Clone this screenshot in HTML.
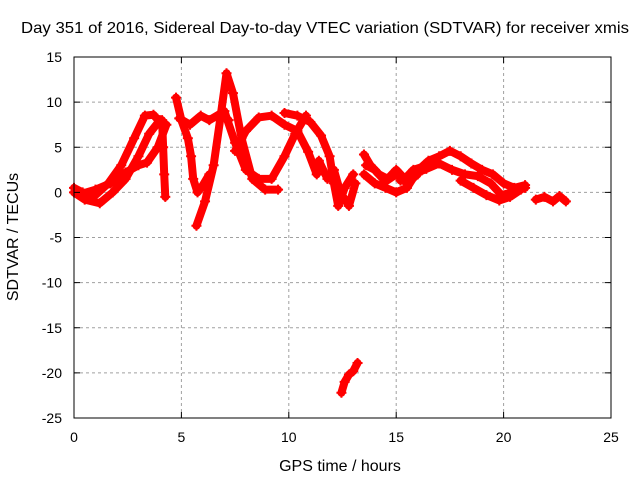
<!DOCTYPE html>
<html><head><meta charset="utf-8"><style>
html,body{margin:0;padding:0;background:#fff;}
svg text{font-family:"Liberation Sans",sans-serif;font-size:14px;fill:#000;}
svg text.big{font-size:16px;}
</style></head><body>
<svg id="chart" width="640" height="480" xmlns="http://www.w3.org/2000/svg">
<rect width="640" height="480" fill="#fff"/>
<g id="grid"></g>
<g id="series"></g>
<g id="axes"></g>
<text class="big" x="325" y="33" text-anchor="middle" textLength="608" lengthAdjust="spacingAndGlyphs">Day 351 of 2016, Sidereal Day-to-day VTEC variation (SDTVAR) for receiver xmis</text>
<text class="big" x="340" y="471" text-anchor="middle">GPS time / hours</text>
<text class="big" x="18" y="237" text-anchor="middle" transform="rotate(-90 18 237)">SDTVAR / TECUs</text>
</svg>
<script>
const xTicks=[0,5,10,15,20,25];
const yTicks=[15,10,5,0,-5,-10,-15,-20,-25];
const trackA_h=[0,0.4,1,1.6,2.2,2.8,3.3,3.7,4.1];
const trackA_v=[0.5,0,-0.3,1,3,6,8.5,8.6,7.5];
const trackB_h=[0,0.5,1.2,1.8,2.4,3,3.5,4];
const trackB_v=[0,-0.8,-1.2,0,1.5,4,6.5,8];
const trackC_h=[0.3,1,1.7,2.4,3,3.4,3.9,4.3];
const trackC_v=[-0.2,0.3,1,2.2,3,3.3,5,7.5];
const trackD_h=[4.1,4.15,4.2,4.25];
const trackD_v=[8,5,2,-0.5];
const trackE_h=[4.75,5.0,5.3,5.45,5.55,5.75,6.0,6.3];
const trackE_v=[10.5,8,6,4,1.5,0,0.8,2];
const trackF_h=[4.9,5.4,5.9,6.3,6.8,7.2];
const trackF_v=[8.2,7.5,8.5,8,8.7,8];
const trackG_h=[5.7,6.1,6.5,6.8,7.1,7.4,7.8,8.3,8.9,9.5];
const trackG_v=[-3.7,-1,3,8,13.2,11,6,1.5,0.3,0.3];
const trackH_h=[7,7.5,8,8.6,9.2,9.8,10.3,10.8];
const trackH_v=[9,5.5,2.5,1.5,1.5,4,6.5,8.5];
const trackI_h=[7.5,8,8.6,9.2,9.8,10.4,10.9,11.3];
const trackI_v=[4.6,6.8,8.3,8.5,7.5,6.8,4.5,2];
const trackJ_h=[9.8,10.4,11,11.5,11.9,12.1,12.3,12.6,13];
const trackJ_v=[8.8,8.5,7.8,6.3,4,1,-1.5,0.5,2];
const trackK_h=[11.4,11.8,12.1,12.4,12.8,13.1];
const trackK_v=[3.5,1.5,2.5,0,-1.5,1];
const trackL_h=[13.5,13.8,14.2,14.6,15,15.4,15.8,16.2];
const trackL_v=[4.2,3,2,1.5,2.5,1.5,2.5,2.8];
const trackM_h=[13.5,14,14.5,15,15.5,16,16.5,17,17.5,18,18.5,19,19.5,20,20.5,21];
const trackM_v=[2,1,0.5,0,0.5,2.4,3.5,4,4.6,4,3.2,2.5,2,1,0.5,0.8];
const trackN_h=[15.2,15.8,16.4,17,17.6,18.2,18.8,19.4,19.9,20.4,21];
const trackN_v=[1.3,2,2.6,3.2,2.5,2,1.8,1,-0.3,0,0.5];
const trackO_h=[18,18.6,19.2,19.8,20.3,20.8];
const trackO_v=[1.3,0.5,-0.3,-0.9,-0.5,0.3];
const trackP_h=[21.5,21.9,22.3,22.6,22.9];
const trackP_v=[-0.8,-0.5,-1,-0.4,-1];
const trackQ_h=[12.45,12.6,12.8,13,13.2];
const trackQ_v=[-22.2,-21,-20.2,-19.8,-18.9];
const trackR_h=[13.6,14,14.5,15,15.5,16];
const trackR_v=[3,2.5,1.2,2,1,2];
const tracks=[[trackA_h,trackA_v],[trackB_h,trackB_v],[trackC_h,trackC_v],[trackD_h,trackD_v],[trackE_h,trackE_v],[trackF_h,trackF_v],[trackG_h,trackG_v],[trackH_h,trackH_v],[trackI_h,trackI_v],[trackJ_h,trackJ_v],[trackK_h,trackK_v],[trackL_h,trackL_v],[trackM_h,trackM_v],[trackN_h,trackN_v],[trackO_h,trackO_v],[trackP_h,trackP_v],[trackQ_h,trackQ_v],[trackR_h,trackR_v]];
const X0=74,X1=611,Y0=418,Y1=57;
function sx(h){return X0+(h-0)/25*(X1-X0);}
function sy(v){return Y0-(v+25)/40*(Y0-Y1);}
const NS='http://www.w3.org/2000/svg';
function mk(t,a,p){const e=document.createElementNS(NS,t);for(const k in a)e.setAttribute(k,a[k]);p.appendChild(e);return e;}
const grid=document.getElementById('grid'),axes=document.getElementById('axes'),ser=document.getElementById('series');
xTicks.forEach(t=>{const x=sx(t);
 if(t>0&&t<25){const g=mk('line',{x1:x,y1:Y0,x2:x,y2:Y1,stroke:'#a0a0a0','stroke-dasharray':'3,3'},grid);
 }
 mk('line',{x1:x,y1:Y0,x2:x,y2:Y0-6,stroke:'#000'},axes);mk('line',{x1:x,y1:Y1,x2:x,y2:Y1+6,stroke:'#000'},axes);
 const l=mk('text',{x:x,y:Y0+24,'text-anchor':'middle'},axes);l.textContent=t;
 });
yTicks.forEach(t=>{const y=sy(t);
 if(t>-25&&t<15){const g=mk('line',{x1:X0,y1:y,x2:X1,y2:y,stroke:'#a0a0a0','stroke-dasharray':'3,3'},grid);
 }
 mk('line',{x1:X0,y1:y,x2:X0+6,y2:y,stroke:'#000'},axes);mk('line',{x1:X1,y1:y,x2:X1-6,y2:y,stroke:'#000'},axes);
 const l=mk('text',{x:X0-12,y:y+5,'text-anchor':'end'},axes);l.textContent=t;
 });
const box=mk('rect',{x:X0,y:Y1,width:X1-X0,height:Y0-Y1,fill:'none',stroke:'#000'},axes);

tracks.forEach(tr=>{const h=tr[0],v=tr[1];
 const pts=h.map((x,i)=>sx(x)+','+sy(v[i])).join(' ');
 const pl=mk('polyline',{points:pts,fill:'none',stroke:'#f00','stroke-width':8,'stroke-linejoin':'round','stroke-linecap':'round'},ser);
 
 h.forEach((x,i)=>{const px=sx(x),py=sy(v[i]);
  const p=mk('path',{d:`M${px-5},${py}h10M${px},${py-5}v10`,stroke:'#f00','stroke-width':2},ser);
  });});
</script>
</body></html>
